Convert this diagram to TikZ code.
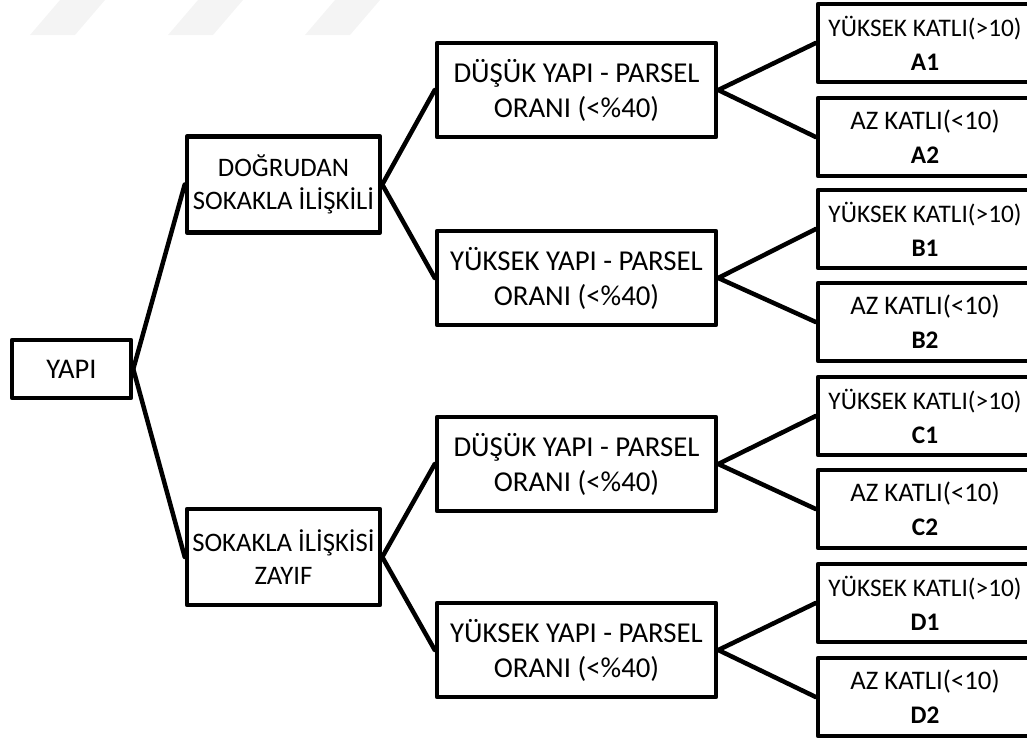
\documentclass[tikz,border=0pt]{standalone}
\usepackage{fontspec}
\setmainfont{Carlito}
\begin{document}
\begin{tikzpicture}[x=1pt,y=-1pt,
  box/.style={draw=black, line width=4.5pt, fill=white, align=center, inner sep=0pt, line join=round},
  mid/.style={box, minimum width=279pt, minimum height=94pt, font=\fontsize{28.8}{35}\selectfont},
  left/.style={box, minimum width=193pt, minimum height=96pt, font=\fontsize{26.7}{33.5}\selectfont},
  leaf/.style={box, minimum width=214pt, minimum height=78pt, font=\fontsize{25.3}{34}\selectfont},
  conn/.style={line width=4.5pt, line cap=round}]
\useasboundingbox (0,0) rectangle (1027,737);
% faint watermark stripes
\fill[gray!9] (30,35) -- (60,0) -- (105,0) -- (75,35) -- cycle;
\fill[gray!9] (168,35) -- (198,0) -- (243,0) -- (213,35) -- cycle;
\fill[gray!9] (305,35) -- (335,0) -- (380,0) -- (350,35) -- cycle;
% nodes
\node[box, minimum width=119pt, minimum height=58pt, font=\fontsize{28.5}{30}\selectfont] (yapi) at (71.5,369) {YAPI};
\node[left] (dog) at (283.5,184.5) {DOĞRUDAN\\SOKAKLA İLİŞKİLİ};
\node[left] (zay) at (283.5,557) {SOKAKLA İLİŞKİSİ\\ZAYIF};
\node[mid] (m1) at (576.5,90) {DÜŞÜK YAPI - PARSEL\\ORANI (<\%40)};
\node[mid] (m2) at (576.5,278) {YÜKSEK YAPI - PARSEL\\ORANI (<\%40)};
\node[mid] (m3) at (576.5,464) {DÜŞÜK YAPI - PARSEL\\ORANI (<\%40)};
\node[mid] (m4) at (576.5,650) {YÜKSEK YAPI - PARSEL\\ORANI (<\%40)};
\node[leaf] (a1) at (925,43) {YÜKSEK KATLI(>10)\\\textbf{A1}};
\node[leaf] (a2) at (925,137) {{\fontsize{26.8}{34}\selectfont AZ KATLI(<10)}\\\textbf{A2}};
\node[leaf] (b1) at (925,229) {YÜKSEK KATLI(>10)\\\textbf{B1}};
\node[leaf] (b2) at (925,322) {{\fontsize{26.8}{34}\selectfont AZ KATLI(<10)}\\\textbf{B2}};
\node[leaf] (c1) at (925,416) {YÜKSEK KATLI(>10)\\\textbf{C1}};
\node[leaf] (c2) at (925,509) {{\fontsize{26.8}{34}\selectfont AZ KATLI(<10)}\\\textbf{C2}};
\node[leaf] (d1) at (925,603) {YÜKSEK KATLI(>10)\\\textbf{D1}};
\node[leaf] (d2) at (925,697) {{\fontsize{26.8}{34}\selectfont AZ KATLI(<10)}\\\textbf{D2}};
% connectors
\draw[conn] (yapi.east) -- (dog.west);
\draw[conn] (yapi.east) -- (zay.west);
\draw[conn] (dog.east) -- (m1.west);
\draw[conn] (dog.east) -- (m2.west);
\draw[conn] (zay.east) -- (m3.west);
\draw[conn] (zay.east) -- (m4.west);
\draw[conn] (m1.east) -- (a1.west);
\draw[conn] (m1.east) -- (a2.west);
\draw[conn] (m2.east) -- (b1.west);
\draw[conn] (m2.east) -- (b2.west);
\draw[conn] (m3.east) -- (c1.west);
\draw[conn] (m3.east) -- (c2.west);
\draw[conn] (m4.east) -- (d1.west);
\draw[conn] (m4.east) -- (d2.west);
\end{tikzpicture}
\end{document}
